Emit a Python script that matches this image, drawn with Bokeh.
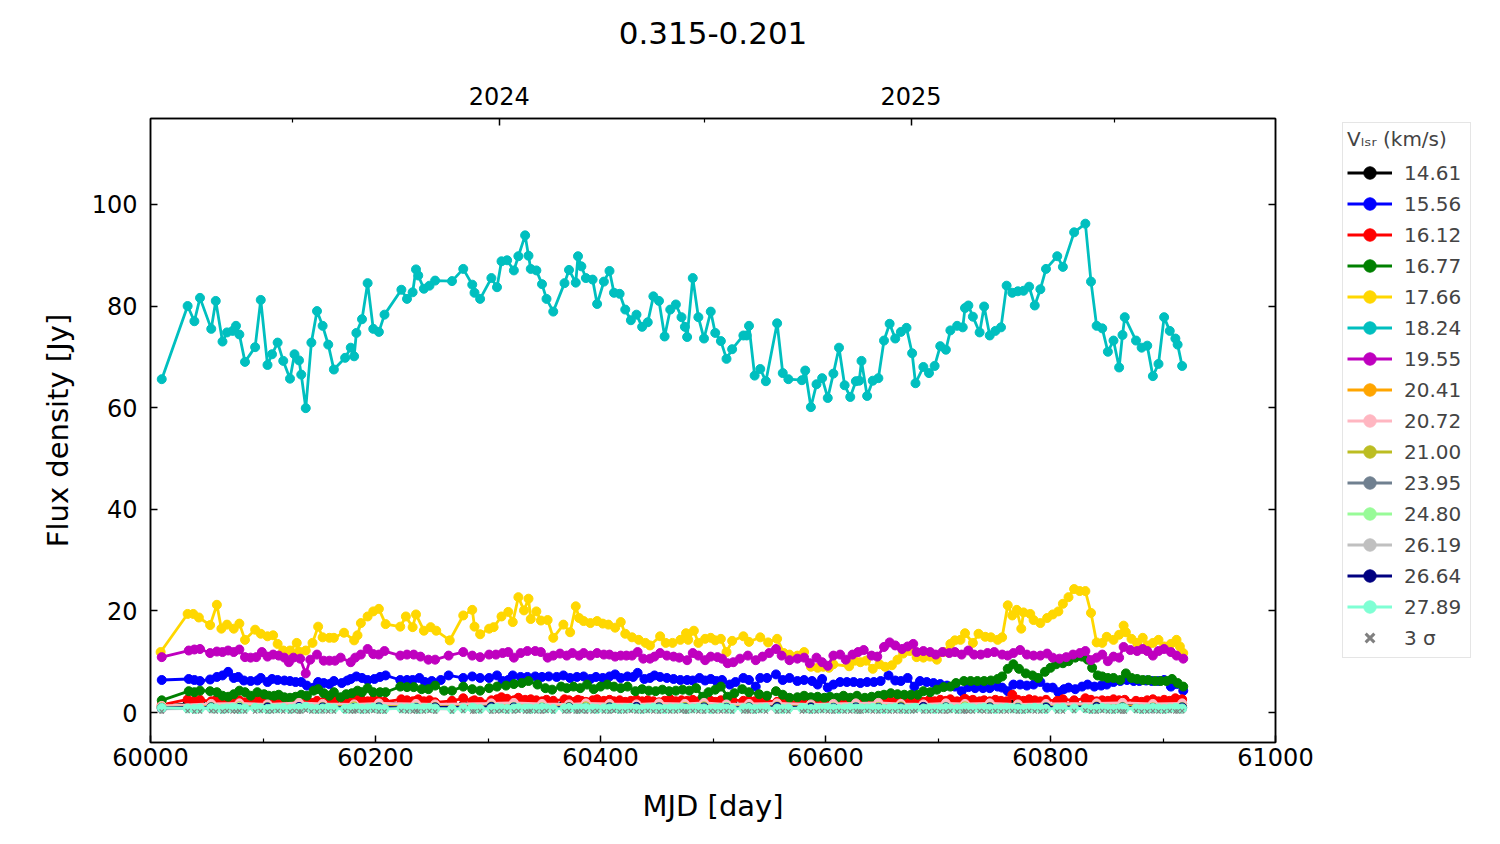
from bokeh.plotting import figure
from bokeh.layouts import row
from bokeh.models import (Range1d, LinearAxis, FixedTicker, Legend, LegendItem,
                          ColumnDataSource)
from bokeh.embed import file_html
from bokeh.resources import INLINE

FONT = "DejaVu Sans"
NAN = float("nan")

# ---------------- data ----------------
title_text = "0.315-0.201"
x_label = "MJD [day]"
y_label = "Flux density [Jy]"
legend_title = "V\u2097\u209b\u1d63 (km/s)"

xticks = [60000, 60200, 60400, 60600, 60800, 61000]
xtick_labels = ["60000", "60200", "60400", "60600", "60800", "61000"]
xminor = [60100, 60300, 60500, 60700, 60900]
yticks = [0, 20, 40, 60, 80, 100]
ytick_labels = ["0", "20", "40", "60", "80", "100"]
year_ticks = [60310, 60676]
year_labels = ["2024", "2025"]
year_minor = [60126, 60492, 60857]

# common observation dates (MJD)
mjd = [60010, 60033, 60039, 60044, 60054, 60058, 60064, 60068, 60073, 60076,
       60079, 60084, 60093, 60098, 60104, 60108, 60113, 60118, 60124, 60128,
       60132, 60134, 60138, 60143, 60148, 60153, 60158, 60163, 60173, 60178,
       60181, 60183, 60188, 60193, 60198, 60203, 60208, 60223, 60228, 60233,
       60236, 60238, 60243, 60248, 60253, 60268, 60278, 60286, 60288, 60293,
       60303, 60308, 60312, 60317, 60323, 60327, 60333, 60336, 60338, 60343,
       60348, 60352, 60358, 60368, 60372, 60378, 60380, 60383, 60387, 60393,
       60397, 60403, 60408, 60412, 60417, 60422, 60427, 60432, 60437, 60442,
       60447, 60452, 60457, 60462, 60467, 60472, 60475, 60477, 60482, 60487,
       60492, 60498, 60502, 60507, 60512, 60517, 60527, 60530, 60532, 60537,
       60542, 60547, 60557, 60562, 60567, 60579, 60582, 60587, 60592, 60597,
       60602, 60607, 60612, 60617, 60622, 60627, 60630, 60632, 60637, 60642,
       60647, 60652, 60657, 60662, 60667, 60672, 60677, 60680, 60687, 60692,
       60697, 60702, 60707, 60711, 60717, 60722, 60724, 60727, 60731, 60737,
       60741, 60746, 60751, 60756, 60761, 60766, 60771, 60776, 60781, 60786,
       60791, 60796, 60806, 60811, 60821, 60831, 60836, 60841, 60846, 60851,
       60856, 60861, 60864, 60866, 60876, 60881, 60886, 60891, 60896, 60901,
       60906, 60911, 60913, 60917]

flux_1824 = [65.6, 80.0, 77.0, 81.6, 75.5, 81.0, 73.0, 74.8, 75.1, 76.1,
             74.4, 69.0, 71.9, 81.2, 68.4, 70.5, 72.8, 69.2, 65.7, 70.5,
             69.3, 66.5, 59.9, 72.8, 79.0, 76.1, 72.4, 67.5, 69.8, 71.8,
             70.1, 74.7, 77.4, 84.5, 75.5, 74.9, 78.3, 83.2, 81.4, 82.7,
             87.2, 86.0, 83.4, 84.0, 85.0, 84.9, 87.3, 84.2, 82.6, 81.4,
             85.5, 83.7, 88.8, 89.0, 87.0, 89.8, 93.9, 89.9, 87.3, 87.0,
             84.3, 81.4, 78.9, 84.5, 87.1, 84.6, 89.8, 87.8, 85.5, 85.2,
             80.4, 84.8, 86.9, 82.6, 82.4, 79.3, 77.2, 78.3, 75.9, 76.8,
             81.9, 81.0, 74.0, 79.3, 80.3, 77.8, 75.9, 73.9, 85.5, 77.8,
             73.6, 78.9, 74.7, 73.1, 69.6, 71.5, 74.2, 74.2, 76.1, 66.3,
             67.6, 65.2, 76.6, 66.8, 65.6, 65.4, 67.3, 60.1, 64.6, 65.8,
             61.9, 66.7, 71.8, 64.4, 62.1, 65.2, 65.3, 69.2, 62.3, 65.3,
             65.8, 73.2, 76.5, 73.6, 74.9, 75.7, 70.7, 64.8, 68.0, 66.8,
             68.2, 72.1, 71.4, 75.2, 76.1, 75.8, 79.6, 80.1, 77.9, 74.8,
             79.9, 74.2, 75.1, 75.8, 84.0, 82.6, 82.9, 83.0, 83.8, 80.1,
             83.3, 87.3, 89.8, 87.7, 94.5, 96.2, 84.8, 76.1, 75.6, 71.0,
             73.2, 67.9, 74.3, 77.8, 73.2, 71.8, 72.2, 66.2, 68.6, 77.8,
             75.1, 73.6, 72.4, 68.2]

flux_1612 = [1.5, 2.6, 2.3, 2.5, 2.2, 2.4, 2.1, 2.3, 2.5, 2.2,
             2.4, 2.0, 2.3, 2.5, 2.1, 2.4, 2.2, 2.6, 2.0, 2.3,
             2.1, 2.4, 2.2, 1.9, 2.3, 2.0, 2.2, 2.4, 2.1, 2.5,
             2.2, 2.8, 2.4, 2.2, 2.5, 2.3, 2.1, 2.6, 2.4, 2.2,
             2.3, 2.6, 2.2, 2.4, 2.0, 2.3, 2.8, 2.2, 2.4, 2.1,
             2.4, 2.6, 3.0, 2.7, 2.4, 2.9, 2.5, 2.3, 2.6, 2.4,
             2.2, 2.5, 2.3, 2.6, 2.4, 2.2, 2.5, 2.3, 2.1, 2.4,
             2.6, 2.3, 2.5, 2.2, 2.4, 2.1, 2.3, 2.5, 2.2, 2.4,
             2.2, 2.0, 2.3, 2.6, 2.2, 2.4, 2.1, 2.3, 2.5, 2.2,
             2.0, 2.3, 2.1, 2.4, 2.2, 2.5, 2.3, 2.1, 2.4, 2.2,
             2.5, 2.3, 2.1, 2.4, 2.2, 2.0, 2.3, 2.5, 2.2, 1.9,
             2.2, 2.4, 2.1, 2.3, 2.5, 2.2, 2.0, 2.3, 2.1, 2.4,
             2.2, 2.5, 2.3, 2.1, 2.4, 2.2, 2.6, 2.3, 2.1, 2.4,
             2.2, 2.5, 2.3, 2.6, 2.2, 2.4, 2.7, 2.3, 2.5, 2.2,
             2.4, 2.2, 2.5, 2.3, 2.2, 3.5, 2.5, 2.3, 2.6, 2.4,
             2.2, 2.5, 2.3, 2.6, 2.4, 2.8, 2.5, 2.2, 2.4, 2.3,
             2.6, 2.4, 2.2, 2.5, 2.3, 2.1, 2.4, 2.6, 2.2, 2.5,
             2.3, 2.8, 2.4, 2.6]

flux_1461 = [1.2, 1.7, 1.6, 1.8, 1.5, 1.7, 1.6, 1.5, 1.7, 1.6,
             1.8, 1.5, 1.6, 1.7, 1.5, 1.6, 1.8, 1.6, 1.5, 1.7,
             1.6, 1.5, 1.7, 1.6, 1.8, 1.6, 1.5, 1.7, 1.6, 1.5,
             1.7, 1.6, 1.8, 1.6, 1.5, 1.7, 2.0, 1.6, 1.8, 1.6,
             1.7, 1.5, 1.6, 1.8, 1.6, 1.7, 1.5, 1.6, 1.8, 1.7,
             1.6, 1.8, 1.7, 1.6, 1.9, 1.7, 1.6, 1.8, 1.6, 1.7,
             1.5, 1.7, 1.6, 1.8, 1.9, 1.6, 1.7, 1.5, 1.6, 1.8,
             1.6, 1.7, 1.5, 1.6, 1.8, 1.7, 1.6, 1.5, 1.7, 1.6,
             1.8, 1.6, 1.5, 1.7, 1.6, 1.9, 1.6, 1.7, 1.5, 1.6,
             1.7, 1.6, 1.8, 1.6, 1.5, 1.7, 1.6, 1.8, 1.6, 1.5,
             1.7, 1.6, 1.5, 1.8, 1.6, 1.7, 1.5, 1.6, 1.8, 1.6,
             1.9, 1.7, 1.6, 1.8, 1.6, 1.5, 1.7, 1.6, 1.8, 1.6,
             1.5, 1.7, 1.6, 1.5, 1.8, 1.6, 1.7, 1.6, 1.5, 1.7,
             1.6, 1.8, 1.6, 1.7, 1.5, 1.6, 1.8, 1.6, 1.7, 1.5,
             1.6, 1.8, 1.6, 1.7, 1.9, 1.6, 1.5, 1.7, 1.6, 1.8,
             1.6, 1.5, 1.7, 1.6, 1.8, 1.6, 1.7, 1.5, 1.6, 1.8,
             1.6, 1.7, 1.5, 1.6, 1.8, 1.6, 1.9, 1.7, 1.6, 1.5,
             1.7, 1.6, 1.8, 1.7]

flux_2789 = [0.9, 0.8, 0.7, 0.8, 0.9, 0.8, 0.7, 0.8, 0.9, 0.8,
             0.7, 0.8, 0.9, 0.8, 0.7, 0.8, 0.8, 0.9, 0.7, 0.8,
             0.9, 0.8, 1.1, 0.8, 0.7, 0.8, 0.9, 0.8, 0.7, 0.8,
             0.8, 0.9, 0.7, 0.8, 0.9, 0.8, 0.7, 0.8, 0.8, 0.9,
             0.8, 0.7, 0.8, 0.9, 0.8, 0.7, 0.8, 0.9, 0.8, 0.7,
             0.8, 0.9, 0.8, 0.7, 0.8, 0.9, 0.8, 0.8, 0.7, 0.8,
             0.9, 0.8, 0.7, 0.8, 0.9, 0.8, 0.7, 0.8, 0.9, 0.8,
             0.7, 0.8, 0.8, 0.9, 0.7, 0.8, 0.9, 0.8, 0.7, 0.8,
             0.9, 0.8, 0.7, 0.8, 0.8, 0.9, 0.8, 0.7, 0.8, 0.9,
             0.8, 0.7, 0.8, 0.9, 0.8, 0.7, 0.8, 0.8, 0.9, 0.7,
             0.8, 0.9, 0.8, 0.7, 0.8, 0.9, 0.8, 0.7, 0.8, 0.8,
             0.9, 0.8, 0.7, 0.8, 0.9, 0.8, 0.7, 0.8, 0.8, 0.9,
             0.8, 0.7, 0.8, 0.9, 0.8, 0.7, 0.8, 0.9, 0.8, 0.8,
             0.7, 0.8, 0.9, 0.8, 0.7, 0.8, 1.0, 0.9, 0.8, 0.8,
             0.9, 0.8, 0.7, 0.8, 0.9, 0.8, 0.8, 0.7, 0.8, 0.9,
             0.8, 0.7, 0.8, 0.9, 0.8, 0.8, 0.7, 0.8, 0.9, 0.8,
             0.7, 0.8, 0.9, 0.8, 0.8, 0.7, 0.8, 0.9, 0.8, 0.7,
             0.8, 0.9, 0.8, 0.8]

sigma3 = [0.2, 0.3, 0.2, 0.2, 0.3, 0.2, 0.2, 0.3, 0.2, 0.2,
          0.3, 0.2, 0.2, 0.3, 0.2, 0.2, 0.3, 0.2, 0.2, 0.3,
          0.2, 0.2, 0.4, 0.2, 0.2, 0.3, 0.2, 0.2, 0.3, 0.2,
          0.2, 0.3, 0.2, 0.2, 0.3, 0.2, 0.2, 0.3, 0.2, 0.2,
          0.3, 0.2, 0.2, 0.3, 0.2, 0.2, 0.3, 0.2, 0.2, 0.3,
          0.2, 0.2, 0.3, 0.2, 0.2, 0.3, 0.2, 0.2, 0.3, 0.2,
          0.2, 0.3, 0.2, 0.2, 0.3, 0.2, 0.2, 0.3, 0.2, 0.2,
          0.3, 0.2, 0.2, 0.3, 0.2, 0.2, 0.3, 0.2, 0.2, 0.3,
          0.2, 0.2, 0.3, 0.2, 0.2, 0.3, 0.2, 0.2, 0.3, 0.2,
          0.2, 0.3, 0.2, 0.2, 0.3, 0.2, 0.2, 0.3, 0.2, 0.2,
          0.3, 0.2, 0.2, 0.3, 0.2, 0.2, 0.3, 0.2, 0.2, 0.3,
          0.2, 0.2, 0.3, 0.2, 0.2, 0.3, 0.2, 0.2, 0.3, 0.2,
          0.2, 0.3, 0.2, 0.2, 0.3, 0.2, 0.2, 0.3, 0.2, 0.2,
          0.3, 0.2, 0.2, 0.3, 0.2, 0.2, 0.3, 0.2, 0.2, 0.3,
          0.2, 0.2, 0.3, 0.2, 0.2, 0.3, 0.2, 0.2, 0.3, 0.2,
          0.2, 0.3, 0.2, 0.2, 0.3, 0.4, 0.2, 0.2, 0.3, 0.2,
          0.2, 0.3, 0.2, 0.2, 0.3, 0.2, 0.2, 0.3, 0.2, 0.2,
          0.3, 0.2, 0.2, 0.3]

# per-series dates for the brighter features
mjd_1766 = [60009, 60033, 60038, 60043, 60053, 60059, 60063, 60068, 60074, 60079,
            60084, 60093, 60098, 60104, 60109, 60113, 60118, 60124, 60130, 60132,
            60138, 60144, 60149, 60153, 60159, 60163, 60172, 60181, 60184, 60187,
            60193, 60198, 60203, 60209, 60222, 60227, 60233, 60236, 60243, 60249,
            60254, 60266, 60278, 60286, 60288, 60293, 60301, 60305, 60312, 60318,
            60322, 60327, 60332, 60336, 60338, 60343, 60347, 60353, 60358, 60367,
            60373, 60378, 60381, 60385, 60391, 60397, 60402, 60407, 60413, 60418,
            60422, 60428, 60434, 60440, 60444, 60453, 60458, 60464, 60471, 60476,
            60478, 60483, 60487, 60493, 60498, 60502, 60507, 60512, 60517, 60527,
            60532, 60542, 60549, 60557, 60563, 60568, 60575, 60581, 60587, 60593,
            60598, 60603, 60607, 60621, 60626, 60631, 60636, 60642, 60648, 60653,
            60659, 60664, 60669, 60675, 60681, 60687, 60693, 60699, 60705, 60711,
            60715, 60720, 60724, 60731, 60736, 60742, 60747, 60753, 60757, 60762,
            60766, 60770, 60774, 60776, 60782, 60785, 60791, 60797, 60802, 60807,
            60811, 60816, 60821, 60826, 60831, 60836, 60841, 60846, 60850, 60856,
            60861, 60865, 60867, 60872, 60877, 60882, 60886, 60891, 60896, 60901,
            60907, 60912, 60915, 60918]
flux_1766 = [11.9, 19.4, 19.4, 18.7, 17.2, 21.2, 16.5, 17.3, 16.5, 17.5,
             14.3, 16.3, 15.5, 15.0, 15.2, 13.5, 12.2, 12.2, 13.7, 12.0,
             12.2, 13.7, 16.9, 14.8, 14.7, 14.7, 15.7, 14.2, 15.2, 17.6,
             18.9, 19.9, 20.4, 17.4, 16.9, 18.9, 16.8, 19.3, 16.1, 16.8,
             16.1, 14.2, 19.1, 20.2, 16.9, 15.4, 16.5, 16.8, 18.9, 19.8,
             17.8, 22.7, 20.1, 22.4, 18.4, 19.9, 18.1, 18.2, 14.7, 17.3,
             15.8, 20.9, 18.6, 18.0, 17.6, 18.0, 17.5, 17.3, 16.7, 17.8,
             15.5, 14.8, 14.3, 13.7, 13.2, 15.0, 13.7, 13.7, 14.3, 15.6,
             14.3, 16.1, 13.7, 14.5, 14.7, 14.2, 14.5, 11.9, 14.1, 15.0,
             13.9, 14.8, 13.8, 14.5, 11.7, 11.4, 11.2, 11.9, 9.0, 8.8,
             9.0, 8.8, 9.5, 9.1, 10.2, 9.9, 10.2, 8.6, 9.5, 9.0,
             9.3, 10.4, 11.6, 12.1, 10.9, 10.8, 11.0, 10.4, 11.9, 13.5,
             14.2, 14.3, 15.6, 13.7, 15.5, 14.9, 14.8, 14.3, 14.8, 21.1,
             19.1, 20.2, 16.5, 19.7, 19.4, 18.2, 17.6, 18.6, 19.3, 19.9,
             21.4, 22.7, 24.3, 23.9, 23.9, 19.6, 13.8, 13.7, 14.9, 14.3,
             15.3, 17.1, 15.8, 14.5, 13.7, 14.7, 13.2, 13.7, 14.3, 13.0,
             13.5, 14.3, 13.0, 11.7]

mjd_1955 = [60010, 60034, 60039, 60044, 60053, 60059, 60064, 60069, 60074, 60079,
            60084, 60089, 60094, 60099, 60104, 60109, 60114, 60119, 60123, 60127,
            60133, 60138, 60142, 60148, 60154, 60159, 60164, 60169, 60178, 60182,
            60187, 60193, 60198, 60203, 60208, 60222, 60228, 60234, 60240, 60247,
            60253, 60265, 60278, 60286, 60293, 60301, 60307, 60313, 60318, 60323,
            60329, 60335, 60342, 60347, 60353, 60358, 60364, 60370, 60375, 60381,
            60385, 60391, 60397, 60403, 60408, 60413, 60418, 60423, 60428, 60433,
            60438, 60444, 60448, 60453, 60459, 60465, 60470, 60477, 60482, 60487,
            60493, 60498, 60504, 60508, 60513, 60518, 60524, 60531, 60538, 60544,
            60550, 60556, 60561, 60568, 60575, 60581, 60586, 60592, 60597, 60602,
            60607, 60613, 60618, 60624, 60629, 60634, 60641, 60646, 60652, 60657,
            60662, 60668, 60673, 60678, 60681, 60687, 60693, 60698, 60704, 60710,
            60715, 60721, 60727, 60732, 60738, 60744, 60750, 60757, 60762, 60767,
            60773, 60779, 60785, 60791, 60797, 60802, 60808, 60814, 60820, 60826,
            60831, 60836, 60841, 60846, 60851, 60856, 60861, 60865, 60871, 60877,
            60882, 60886, 60891, 60896, 60901, 60907, 60912, 60918]
flux_1955 = [10.9, 12.2, 12.4, 12.5, 11.7, 12.0, 11.9, 12.2, 11.9, 12.4,
             10.9, 10.8, 10.9, 11.9, 11.0, 11.4, 11.2, 10.8, 9.9, 10.8,
             10.6, 7.7, 10.4, 11.4, 10.2, 10.2, 10.2, 10.8, 9.9, 10.8,
             11.4, 12.5, 11.5, 11.4, 12.1, 11.2, 11.4, 11.4, 11.0, 10.4,
             10.4, 11.2, 11.9, 11.2, 10.9, 11.4, 11.4, 11.7, 11.9, 10.8,
             11.7, 12.1, 12.1, 11.9, 10.8, 11.2, 11.6, 11.2, 11.7, 11.2,
             11.7, 11.2, 11.7, 11.4, 11.4, 11.0, 11.2, 11.2, 11.2, 11.9,
             10.6, 10.6, 11.0, 11.7, 11.2, 11.0, 10.8, 10.3, 11.7, 11.2,
             10.3, 11.0, 10.9, 10.6, 9.7, 9.9, 10.6, 11.2, 10.3, 11.0,
             11.7, 12.5, 11.2, 10.3, 10.6, 10.8, 9.7, 10.8, 9.9, 9.2,
             11.2, 11.4, 10.4, 11.4, 11.9, 12.3, 11.2, 11.0, 12.9, 13.8,
             13.2, 12.5, 13.0, 13.5, 11.9, 12.1, 11.9, 11.4, 11.9, 11.7,
             11.9, 11.4, 12.2, 11.4, 11.4, 11.7, 11.9, 11.4, 11.2, 11.7,
             12.3, 11.4, 11.2, 11.2, 11.6, 10.8, 10.6, 10.9, 11.4, 11.7,
             12.1, 10.3, 10.8, 11.4, 10.1, 11.0, 10.8, 12.9, 12.3, 12.1,
             12.5, 12.1, 11.2, 12.1, 12.5, 11.9, 11.2, 10.6]

mjd_1556 = [60010, 60034, 60039, 60044, 60053, 60059, 60064, 60069, 60074, 60078,
            60083, 60089, 60095, 60098, 60104, 60108, 60113, 60119, 60124, 60129,
            60134, 60139, 60145, 60149, 60154, 60159, 60163, 60170, 60175, 60178,
            60183, 60188, 60193, 60199, 60204, 60209, 60222, 60228, 60233, 60239,
            60244, 60250, 60258, 60265, 60278, 60286, 60293, 60301, 60308, 60313,
            60318, 60322, 60329, 60335, 60342, 60348, 60354, 60361, 60367, 60373,
            60379, 60385, 60391, 60396, 60402, 60408, 60413, 60418, 60424, 60429,
            60433, 60439, 60444, 60448, 60453, 60459, 60465, 60471, 60477, 60482,
            60488, 60493, 60498, 60503, 60508, 60515, 60520, 60527, 60532, 60538,
            60542, 60548, 60556, 60562, 60568, 60575, 60581, 60588, 60593, 60597,
            60602, 60607, 60613, 60619, 60625, 60631, 60637, 60643, 60649, 60656,
            60662, 60667, 60673, 60679, 60684, 60690, 60696, 60702, 60708, 60715,
            60721, 60727, 60733, 60740, 60746, 60753, 60757, 60762, 60767, 60773,
            60779, 60785, 60791, 60797, 60802, 60807, 60812, 60816, 60822, 60828,
            60833, 60839, 60845, 60850, 60856, 60862, 60868, 60874, 60879, 60885,
            60890, 60896, 60901, 60907, 60912, 60918]
flux_1556 = [6.4, 6.6, 6.4, 6.2, 6.5, 7.0, 7.3, 8.0, 6.8, 7.0,
             6.3, 6.2, 6.3, 6.8, 6.0, 6.6, 6.4, 6.3, 6.2, 6.0,
             6.0, 5.3, 4.9, 6.0, 5.8, 5.6, 6.2, 5.8, 6.3, 6.6,
             7.1, 6.8, 6.4, 6.6, 7.0, 7.3, 6.4, 6.4, 6.4, 6.8,
             6.0, 6.2, 6.4, 7.3, 6.8, 7.1, 6.8, 6.8, 7.3, 6.2,
             6.4, 7.3, 7.0, 7.0, 7.1, 7.0, 7.1, 7.0, 7.3, 6.8,
             7.0, 7.1, 6.6, 7.0, 6.8, 7.1, 7.5, 6.8, 7.1, 7.0,
             7.8, 6.6, 6.8, 7.3, 7.0, 6.8, 6.6, 6.4, 6.4, 6.3,
             6.8, 6.3, 6.6, 6.2, 6.4, 5.5, 6.0, 6.8, 6.4, 5.1,
             6.8, 6.8, 7.5, 6.4, 6.8, 6.2, 6.4, 6.2, 5.5, 6.6,
             4.9, 5.5, 6.0, 6.0, 6.0, 5.8, 6.0, 6.0, 6.2, 7.3,
             6.3, 6.2, 6.8, 5.1, 6.2, 6.0, 5.8, 5.6, 5.3, 5.1,
             4.2, 5.0, 4.8, 4.8, 4.8, 5.1, 4.9, 4.2, 5.5, 5.5,
             5.3, 5.5, 6.0, 4.9, 4.9, 4.0, 4.6, 4.9, 4.6, 5.1,
             5.5, 5.1, 5.3, 5.5, 6.0, 6.2, 6.4, 6.2, 6.2, 6.3,
             6.2, 6.2, 6.4, 5.1, 5.6, 4.3]

mjd_1677 = [60010, 60034, 60039, 60044, 60053, 60059, 60064, 60069, 60074, 60079,
            60084, 60089, 60095, 60101, 60105, 60110, 60114, 60119, 60124, 60129,
            60134, 60139, 60145, 60149, 60154, 60159, 60163, 60169, 60174, 60179,
            60184, 60188, 60193, 60198, 60204, 60209, 60222, 60228, 60234, 60241,
            60247, 60253, 60261, 60268, 60278, 60286, 60293, 60301, 60308, 60316,
            60323, 60330, 60336, 60344, 60351, 60357, 60365, 60370, 60376, 60382,
            60388, 60394, 60400, 60406, 60412, 60418, 60424, 60431, 60437, 60443,
            60449, 60455, 60461, 60467, 60473, 60479, 60485, 60491, 60496, 60502,
            60507, 60513, 60519, 60526, 60532, 60541, 60548, 60556, 60562, 60568,
            60575, 60581, 60587, 60593, 60599, 60604, 60610, 60616, 60622, 60628,
            60635, 60641, 60647, 60652, 60658, 60664, 60670, 60676, 60682, 60687,
            60693, 60699, 60705, 60711, 60716, 60723, 60729, 60735, 60741, 60747,
            60753, 60757, 60762, 60767, 60772, 60778, 60784, 60789, 60795, 60800,
            60805, 60811, 60816, 60822, 60828, 60833, 60837, 60842, 60846, 60851,
            60856, 60862, 60867, 60872, 60877, 60882, 60887, 60893, 60898, 60903,
            60908, 60913, 60918]
flux_1677 = [2.4, 4.2, 4.0, 4.3, 4.2, 4.0, 3.3, 3.1, 3.6, 4.3,
             4.0, 3.3, 4.0, 3.6, 3.3, 3.3, 3.5, 3.0, 2.9, 3.1,
             3.5, 3.3, 4.3, 4.6, 3.8, 3.3, 4.0, 3.0, 3.6, 3.8,
             4.3, 4.0, 4.8, 4.0, 4.0, 4.0, 5.1, 5.0, 5.0, 4.6,
             4.6, 5.3, 4.3, 4.3, 5.1, 4.6, 4.3, 4.8, 5.1, 5.3,
             5.6, 5.8, 6.2, 5.5, 4.8, 4.5, 5.1, 4.8, 5.1, 4.8,
             5.5, 4.6, 5.1, 5.5, 5.1, 4.8, 5.1, 4.2, 4.6, 4.3,
             4.2, 4.5, 4.2, 4.3, 4.5, 4.3, 4.8, 3.1, 4.0, 4.5,
             5.1, 3.1, 3.8, 4.6, 4.0, 3.6, 3.3, 4.2, 3.5, 2.9,
             3.0, 3.3, 3.0, 3.1, 2.9, 3.1, 2.9, 3.3, 2.9, 3.3,
             2.9, 3.1, 3.3, 3.5, 3.8, 3.6, 3.5, 3.5, 3.5, 4.2,
             4.0, 4.5, 5.0, 5.1, 5.8, 6.2, 6.2, 6.2, 6.2, 6.3,
             6.6, 7.1, 8.6, 9.5, 8.6, 7.7, 7.3, 6.8, 8.0, 8.8,
             9.5, 9.7, 10.1, 10.8, 11.0, 10.4, 8.8, 7.3, 7.1, 6.8,
             6.8, 6.4, 7.7, 6.8, 6.6, 6.4, 6.4, 6.2, 6.2, 6.2,
             6.6, 5.8, 5.1]

# faint features (coarser sampling)
mjd_low = [60010, 60054, 60079, 60104, 60132, 60153, 60181, 60203, 60236, 60253,
           60303, 60323, 60348, 60372, 60387, 60408, 60432, 60452, 60475, 60492,
           60512, 60532, 60557, 60587, 60607, 60627, 60647, 60667, 60687, 60707,
           60724, 60746, 60771, 60796, 60841, 60864, 60891, 60917]
flux_2041 = [1.2, 1.4, 1.3, 1.3, 1.4, 1.2, 1.3, 1.4, 1.3, 1.2,
             1.4, 1.5, 1.3, 1.3, 1.4, 1.2, 1.3, 1.4, 1.3, 1.2,
             1.3, 1.4, 1.3, 1.2, 1.3, 1.4, 1.3, 1.5, 1.3, 1.2,
             1.4, 1.3, 1.5, 1.3, 1.4, 1.3, 1.2, 1.3]
flux_2072 = [1.3, 1.7, 1.8, 1.6, 1.9, 1.7, 1.6, 1.8, 1.7, 1.6,
             1.8, 1.9, 1.7, 1.6, 1.8, 1.7, 1.6, 1.8, 1.7, 1.9,
             1.6, 1.7, 1.8, 1.6, 1.7, 1.8, 1.9, 1.7, 1.6, 1.8,
             1.7, 1.8, 1.6, 1.7, 1.8, 1.9, 1.7, 1.8]
flux_2100 = [1.0, 1.1, 1.2, 1.1, 1.0, 1.1, 1.2, 1.1, 1.0, 1.1,
             1.2, 1.1, 1.0, 1.1, 1.2, 1.1, 1.0, 1.1, 1.1, 1.2,
             1.0, 1.1, 1.2, 1.1, 1.0, 1.1, 1.1, 1.2, 1.0, 1.1,
             1.2, 1.1, 1.0, 1.1, 1.2, 1.1, 1.0, 1.1]
flux_2395 = [0.8, 0.9, 0.9, 1.0, 0.9, 0.8, 0.9, 1.0, 0.9, 0.8,
             0.9, 1.0, 0.9, 0.8, 0.9, 0.9, 1.0, 0.9, 0.8, 0.9,
             1.0, 0.9, 0.8, 0.9, 0.9, 1.0, 0.9, 0.8, 0.9, 1.0,
             0.9, 0.8, 0.9, 1.0, 0.9, 0.9, 0.8, 0.9]
flux_2480 = [0.9, 1.0, 1.1, 1.0, 0.9, 1.0, 1.0, 1.1, 1.0, 0.9,
             1.0, 1.1, 1.0, 0.9, 1.0, 1.0, 1.1, 1.0, 0.9, 1.0,
             1.1, 1.0, 0.9, 1.0, 1.0, 1.1, 1.0, 0.9, 1.0, 1.1,
             1.0, 0.9, 1.0, 1.1, 1.0, 1.0, 0.9, 1.0]
flux_2619 = [0.7, 0.8, 0.7, 0.8, 0.7, 0.7, 0.8, 0.7, 0.8, 0.7,
             0.7, 0.8, 0.7, 0.8, 0.7, 0.7, 0.8, 0.7, 0.8, 0.7,
             0.7, 0.8, 0.7, 0.8, 0.7, 0.7, 0.8, 0.7, 0.8, 0.7,
             0.7, 0.8, 0.7, 0.8, 0.7, 0.7, 0.8, 0.7]
flux_2664 = [0.9, 1.0, 0.9, 1.0, 1.1, 1.0, 0.9, 1.0, 0.9, 1.0,
             1.1, 1.0, 0.9, 1.0, 0.9, 1.0, 1.1, 1.0, 0.9, 1.0,
             0.9, 1.0, 1.1, 1.0, 0.9, 1.0, 0.9, 1.0, 1.1, 1.0,
             0.9, 1.0, 0.9, 1.0, 1.1, 1.0, 0.9, 1.0]

series = [
    ("14.61", mjd, flux_1461, "#000000"),
    ("15.56", mjd_1556, flux_1556, "#0000ff"),
    ("16.12", mjd, flux_1612, "#ff0000"),
    ("16.77", mjd_1677, flux_1677, "#008000"),
    ("17.66", mjd_1766, flux_1766, "#ffd700"),
    ("18.24", mjd, flux_1824, "#00bfbf"),
    ("19.55", mjd_1955, flux_1955, "#bf00bf"),
    ("20.41", mjd_low, flux_2041, "#ffa500"),
    ("20.72", mjd_low, flux_2072, "#ffb6c1"),
    ("21.00", mjd_low, flux_2100, "#bcbd22"),
    ("23.95", mjd_low, flux_2395, "#708090"),
    ("24.80", mjd_low, flux_2480, "#98fb98"),
    ("26.19", mjd_low, flux_2619, "#c0c0c0"),
    ("26.64", mjd_low, flux_2664, "#000080"),
    ("27.89", mjd, flux_2789, "#7fffd4"),
]

# ---------------- main figure ----------------
p = figure(width=1330, height=828, output_backend="svg", toolbar_location=None,
           x_range=Range1d(60000, 61000), y_range=Range1d(-5.9, 116.9),
           x_axis_location=None, y_axis_location=None,
           min_border_left=150, min_border_right=55,
           min_border_top=118, min_border_bottom=86)
p.background_fill_color = "white"
p.border_fill_color = "white"
p.outline_line_color = "black"
p.outline_line_width = 1.5
for g in p.grid:
    g.visible = False


def style_axis(ax, size="24px"):
    ax.major_tick_in = 7
    ax.major_tick_out = 0
    ax.minor_tick_in = 4
    ax.minor_tick_out = 0
    ax.major_tick_line_width = 1.5
    ax.minor_tick_line_width = 1.2
    ax.axis_line_width = 1.5
    ax.major_label_text_font = FONT
    ax.major_label_text_font_size = size
    ax.major_label_text_color = "black"
    ax.axis_label_text_font = FONT
    ax.axis_label_text_font_size = "29px"
    ax.axis_label_text_font_style = "normal"
    ax.axis_label_text_color = "black"


xb = LinearAxis(ticker=FixedTicker(ticks=xticks, minor_ticks=xminor),
                axis_label=x_label,
                major_label_overrides=dict(zip(xticks, xtick_labels)))
style_axis(xb)
xb.major_label_standoff = 5
xb.axis_label_standoff = 20
p.add_layout(xb, "below")

yl = LinearAxis(ticker=FixedTicker(ticks=yticks, minor_ticks=[]),
                axis_label=y_label,
                major_label_overrides=dict(zip(yticks, ytick_labels)))
style_axis(yl)
yl.major_label_standoff = 13
yl.axis_label_standoff = 14
p.add_layout(yl, "left")

yr = LinearAxis(ticker=FixedTicker(ticks=yticks, minor_ticks=[]),
                major_label_overrides={t: "" for t in yticks})
style_axis(yr)
yr.major_label_standoff = 0
p.add_layout(yr, "right")

# top (calendar year) axis; the chart title sits above it as its label
xt = LinearAxis(ticker=FixedTicker(ticks=year_ticks, minor_ticks=year_minor),
                axis_label=title_text,
                major_label_overrides=dict(zip(year_ticks, year_labels)))
style_axis(xt)
xt.major_label_standoff = 14
xt.axis_label_standoff = 40
xt.axis_label_text_font_size = "31px"
p.add_layout(xt, "above")

for name, xs, ys, col in series:
    src = ColumnDataSource(dict(x=xs, y=ys))
    p.line("x", "y", source=src, line_color=col, line_width=2.8)
    p.scatter("x", "y", source=src, marker="circle", size=9,
              fill_color=col, line_color=col)

p.scatter(mjd, sigma3, marker="x", size=6, line_color="#808080", line_width=1.2)

# ---------------- legend panel (separate canvas to the right) ----------------
lg = figure(width=154, height=828, output_backend="svg", toolbar_location=None,
            x_range=Range1d(0, 1), y_range=Range1d(0, 1),
            x_axis_location=None, y_axis_location=None,
            min_border_left=8, min_border_right=0,
            min_border_top=118, min_border_bottom=0)
lg.outline_line_color = None
lg.background_fill_color = "white"
lg.border_fill_color = "white"
for g in lg.grid:
    g.visible = False

items = []
for name, xs, ys, col in series:
    # legend keys only: no data points, nothing drawn in this canvas
    kl = lg.line(x=[NAN], y=[NAN], line_color=col, line_width=2.8)
    km = lg.scatter(x=[NAN], y=[NAN], marker="circle", fill_color=col,
                    line_color=col)
    items.append(LegendItem(label=name, renderers=[kl, km]))
ks = lg.scatter(x=[NAN], y=[NAN], marker="x", line_color="#808080",
                line_width=3)
items.append(LegendItem(label="3 \u03c3", renderers=[ks]))

legend = Legend(items=items, location="top_left", title=legend_title,
                margin=4, padding=4, spacing=0,
                glyph_width=45, glyph_height=31, label_height=31,
                label_width=62, label_standoff=12,
                label_text_font=FONT, label_text_font_size="20px",
                title_text_font=FONT, title_text_font_size="20px",
                title_text_font_style="normal", title_standoff=6,
                border_line_color="#cccccc", border_line_width=1.2,
                background_fill_color="white", background_fill_alpha=1.0)
lg.add_layout(legend)

layout = row(p, lg)
open("out.html", "w").write(file_html(layout, INLINE))
